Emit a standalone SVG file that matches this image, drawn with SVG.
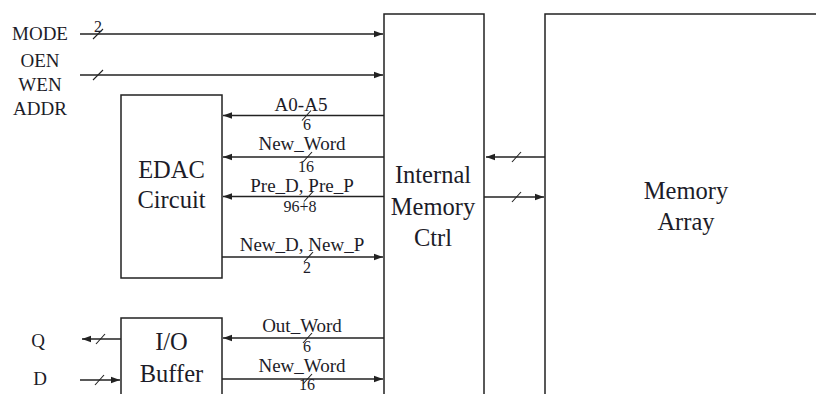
<svg xmlns="http://www.w3.org/2000/svg" width="816" height="394" viewBox="0 0 816 394">
<style>
  .box{fill:#fff;stroke:#222;stroke-width:1.5}
  .big{font-family:"Liberation Serif","Times New Roman",serif;font-size:24.5px;fill:#1c1c28;text-anchor:middle}
  .lbl{font-family:"Liberation Serif","Times New Roman",serif;font-size:19px;fill:#1c1c28;text-anchor:middle}
  .num{font-family:"Liberation Serif","Times New Roman",serif;font-size:16px;fill:#1c1c28;text-anchor:middle}
  .a{stroke:#222;stroke-width:1.3;fill:none;marker-end:url(#ah)}
  .s{stroke:#222;stroke-width:1.1}
</style>
<defs>
  <marker id="ah" markerUnits="userSpaceOnUse" markerWidth="10" markerHeight="8" refX="9" refY="4" orient="auto">
    <path d="M0,0.8 L9,4 L0,7.2 Z" fill="#222"/>
  </marker>
</defs>
<rect width="816" height="394" fill="#fff"/>

<g id="internal-memory-ctrl">
  <rect class="box" x="384" y="14" width="100" height="390"/>
  <text class="big" x="433" y="183">Internal</text>
  <text class="big" x="433" y="214.5">Memory</text>
  <text class="big" x="433" y="246">Ctrl</text>
</g>
<g id="memory-array">
  <rect class="box" x="545" y="14" width="280" height="390"/>
  <text class="big" x="686" y="199">Memory</text>
  <text class="big" x="686" y="230">Array</text>
</g>
<g id="edac-circuit">
  <rect class="box" x="121" y="95" width="101" height="183"/>
  <text class="big" x="171.5" y="178">EDAC</text>
  <text class="big" x="171.5" y="208">Circuit</text>
</g>
<g id="io-buffer">
  <rect class="box" x="121" y="318" width="101" height="90"/>
  <text class="big" x="171.5" y="350">I/O</text>
  <text class="big" x="171.5" y="382">Buffer</text>
</g>
<g id="inputs">
  <text class="lbl" x="40" y="40">MODE</text>
  <text class="lbl" x="40" y="67">OEN</text>
  <text class="lbl" x="40" y="91">WEN</text>
  <text class="lbl" x="40" y="115">ADDR</text>
  <text class="lbl" x="38" y="347">Q</text>
  <text class="lbl" x="40" y="385">D</text>
</g>

<g id="connectors">
  <line class="a" x1="80" y1="34" x2="383" y2="34"/>
  <line class="a" x1="80" y1="75" x2="383" y2="75"/>
  <line class="a" x1="384" y1="115.5" x2="223" y2="115.5"/>
  <line class="a" x1="384" y1="157" x2="223" y2="157"/>
  <line class="a" x1="384" y1="196.5" x2="223" y2="196.5"/>
  <line class="a" x1="222" y1="257" x2="383" y2="257"/>
  <line class="a" x1="384" y1="338" x2="223" y2="338"/>
  <line class="a" x1="222" y1="379" x2="383" y2="379"/>
  <line class="a" x1="121" y1="339" x2="82" y2="339"/>
  <line class="a" x1="80" y1="380" x2="120" y2="380"/>
  <line class="a" x1="545" y1="157" x2="486" y2="157"/>
  <line class="a" x1="484" y1="197" x2="544" y2="197"/>

  <g class="s">
    <line x1="93" y1="39" x2="103" y2="29"/>
    <line x1="93" y1="80" x2="103" y2="70"/>
    <line x1="302" y1="120.5" x2="311" y2="110.5"/>
    <line x1="303" y1="162" x2="312" y2="152"/>
    <line x1="304" y1="201.5" x2="313" y2="191.5"/>
    <line x1="304" y1="262" x2="313" y2="252"/>
    <line x1="303" y1="343" x2="312" y2="333"/>
    <line x1="303" y1="384" x2="312" y2="374"/>
    <line x1="96" y1="344" x2="105" y2="334"/>
    <line x1="95" y1="385" x2="104" y2="375"/>
    <line x1="512" y1="162" x2="521" y2="152"/>
    <line x1="512" y1="202" x2="521" y2="192"/>
  </g>

  <text class="num" x="98" y="32">2</text>
  <text class="lbl" x="301" y="111">A0-A5</text>
  <text class="num" x="307" y="130">6</text>
  <text class="lbl" x="302" y="150">New_Word</text>
  <text class="num" x="306" y="172">16</text>
  <text class="lbl" x="302" y="192">Pre_D, Pre_P</text>
  <text class="num" x="300" y="212">96+8</text>
  <text class="lbl" x="302" y="251">New_D, New_P</text>
  <text class="num" x="307" y="273">2</text>
  <text class="lbl" x="302" y="332">Out_Word</text>
  <text class="num" x="307" y="352">6</text>
  <text class="lbl" x="302" y="372">New_Word</text>
  <text class="num" x="307" y="390">16</text>
</g>
</svg>
